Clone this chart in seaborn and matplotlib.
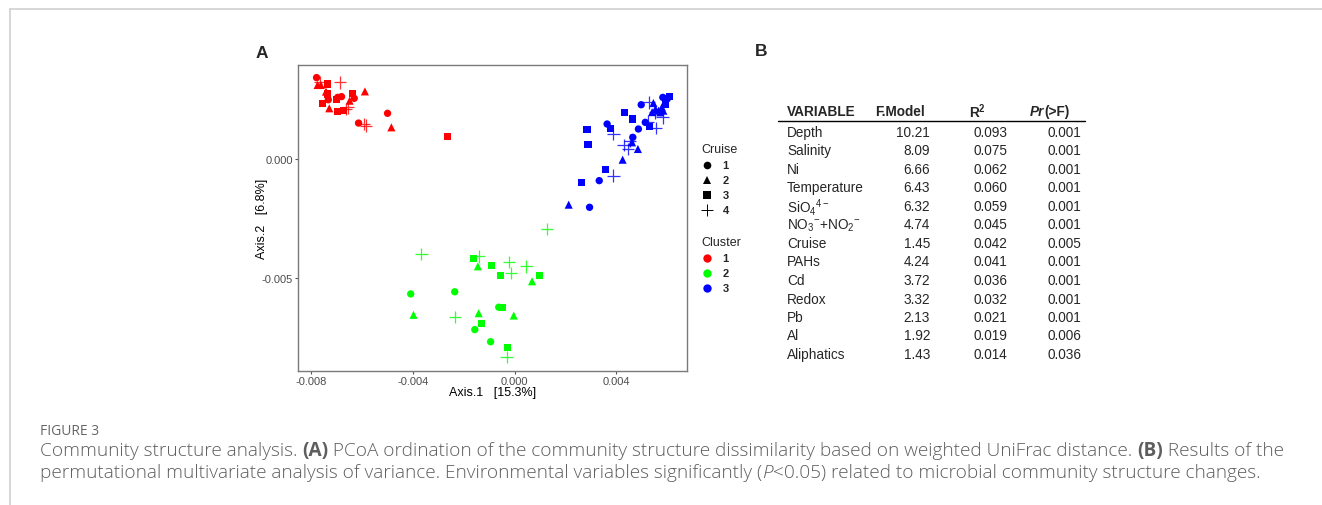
import matplotlib
matplotlib.use("Agg")
import matplotlib.pyplot as plt
from matplotlib.lines import Line2D
import seaborn as sns
import pandas as pd

# ---------------- data ----------------
# PCoA points: (Axis.1, Axis.2, cruise, cluster)
red_x = [-0.00778, -0.00774, -0.00761, -0.00735, -0.00741, -0.00735, -0.00732, -0.00754, -0.00728,
         -0.00695, -0.00672, -0.00686, -0.00695, -0.00698, -0.00680, -0.00636, -0.00630, -0.00648,
         -0.00654, -0.00663, -0.00588, -0.00499, -0.00484, -0.00613, -0.00593, -0.00584, -0.00264,
         -0.00765]
red_y = [0.00342, 0.00311, 0.00311, 0.00315, 0.00283, 0.00273, 0.00249, 0.00235, 0.00213,
         0.00200, 0.00203, 0.00322, 0.00259, 0.00249, 0.00262, 0.00276, 0.00255, 0.00245,
         0.00217, 0.00210, 0.00284, 0.00192, 0.00133, 0.00151, 0.00147, 0.00140, 0.00095,
         0.00324]
red_cruise = [1, 2, 2, 3, 2, 3, 1, 3, 2,
              3, 3, 4, 1, 3, 1, 3, 1, 2,
              4, 4, 2, 1, 2, 1, 4, 4, 3,
              4]

blue_x = [0.00609, 0.00583, 0.00498, 0.00529, 0.00546, 0.00554, 0.00566, 0.00579, 0.00585,
          0.00573, 0.00582, 0.00553, 0.00433, 0.00462, 0.00514, 0.00531, 0.00556, 0.00525,
          0.00364, 0.00379, 0.00389, 0.00487, 0.00285, 0.00289, 0.00465, 0.00455, 0.00462,
          0.00429, 0.00446, 0.00485, 0.00425, 0.00356, 0.00389, 0.00264, 0.00333, 0.00213,
          0.00295, 0.00600, 0.00592, 0.00541]
blue_y = [0.00262, 0.00259, 0.00228, 0.00238, 0.00235, 0.00210, 0.00203, 0.00217, 0.00203,
          0.00196, 0.00175, 0.00196, 0.00196, 0.00168, 0.00154, 0.00136, 0.00130, 0.00157,
          0.00147, 0.00129, 0.00105, 0.00126, 0.00123, 0.00060, 0.00091, 0.00077, 0.00070,
          0.00060, 0.00042, 0.00042, -0.00003, -0.00045, -0.00070, -0.00098, -0.00091, -0.00192,
          -0.00203, 0.00252, 0.00231, 0.00197]
blue_cruise = [3, 1, 1, 4, 2, 2, 2, 2, 2,
               2, 4, 4, 3, 3, 1, 3, 4, 4,
               1, 3, 4, 1, 3, 3, 1, 4, 2,
               4, 4, 2, 2, 3, 4, 3, 1, 2,
               1, 1, 3, 2]

green_x = [0.00128, -0.00366, -0.00160, -0.00140, -0.00144, -0.00091, -0.00022, 0.00047, -0.00055,
           -0.00013, 0.00098, 0.00069, -0.00408, -0.00235, -0.00397, -0.00235, -0.00141, -0.00128,
           -0.00156, -0.00062, -0.00048, -0.00003, -0.00094, -0.00029, -0.00031]
green_y = [-0.00294, -0.00399, -0.00417, -0.00409, -0.00451, -0.00448, -0.00434, -0.00451, -0.00490,
           -0.00479, -0.00490, -0.00514, -0.00567, -0.00558, -0.00655, -0.00665, -0.00648, -0.00693,
           -0.00717, -0.00623, -0.00623, -0.00658, -0.00768, -0.00791, -0.00833]
green_cruise = [4, 4, 3, 4, 2, 3, 4, 4, 3,
                4, 3, 2, 1, 1, 2, 4, 2, 3,
                1, 1, 3, 2, 1, 3, 4]

x_ticks = [-0.008, -0.004, 0.000, 0.004]
y_ticks = [0.000, -0.005]
cruise_levels = [1, 2, 3, 4]
cluster_levels = [1, 2, 3]

# PERMANOVA table
variables = ["Depth", "Salinity", "Ni", "Temperature", r"SiO$_4$$^{4-}$", r"NO$_3$$^{-}$+NO$_2$$^{-}$",
             "Cruise", "PAHs", "Cd", "Redox", "Pb", "Al", "Aliphatics"]
f_model = ["10.21", "8.09", "6.66", "6.43", "6.32", "4.74", "1.45", "4.24", "3.72", "3.32", "2.13", "1.92", "1.43"]
r2 = ["0.093", "0.075", "0.062", "0.060", "0.059", "0.045", "0.042", "0.041", "0.036", "0.032", "0.021", "0.019", "0.014"]
pr_f = ["0.001", "0.001", "0.001", "0.001", "0.001", "0.001", "0.005", "0.001", "0.001", "0.001", "0.001", "0.006", "0.036"]

# ---------------- build frame ----------------
df = pd.concat([
    pd.DataFrame({"x": red_x, "y": red_y, "cruise": red_cruise, "cluster": 1}),
    pd.DataFrame({"x": green_x, "y": green_y, "cruise": green_cruise, "cluster": 2}),
    pd.DataFrame({"x": blue_x, "y": blue_y, "cruise": blue_cruise, "cluster": 3}),
], ignore_index=True)

sns.set_theme(style="white")
plt.rcParams["font.family"] = ["Liberation Sans", "DejaVu Sans"]
plt.rcParams["axes.unicode_minus"] = False
plt.rcParams["mathtext.fontset"] = "custom"
plt.rcParams["mathtext.rm"] = "Liberation Sans"
plt.rcParams["mathtext.it"] = "Liberation Sans:italic"
plt.rcParams["mathtext.bf"] = "Liberation Sans:bold"

W, H = 1322, 506
fig = plt.figure(figsize=(W / 100, H / 100), dpi=100)
fig.patch.set_facecolor("white")

def fx(px):
    return px / W

def fy(py):
    return 1 - py / H

ax_l, ax_r, ax_t, ax_b = 298, 687, 66, 372
ax = fig.add_axes([fx(ax_l), fy(ax_b), fx(ax_r) - fx(ax_l), fy(ax_t) - fy(ax_b)])

palette = {1: "#FF0000", 2: "#00FF00", 3: "#0000FF"}
marker_map = {1: "o", 2: "^", 3: "s", 4: "+"}
size_map = {1: 28, 2: 34, 3: 26, 4: 80}

for c in cruise_levels:
    sub = df[df["cruise"] == c]
    kw = dict(data=sub, x="x", y="y", hue="cluster", palette=palette, marker=marker_map[c],
              s=size_map[c], legend=False, ax=ax, zorder=3)
    if c == 4:
        sns.scatterplot(linewidth=0.9, alpha=0.8, **kw)
    else:
        sns.scatterplot(edgecolor="none", linewidth=0, **kw)

ax.set_xlim(-0.00851, 0.00678)
ax.set_ylim(-0.00891, 0.00395)
ax.set_xticks(x_ticks)
ax.set_yticks(y_ticks)
ax.set_xticklabels([f"{v:.3f}" for v in x_ticks])
ax.set_yticklabels([f"{v:.3f}" for v in y_ticks])
ax.tick_params(axis="both", which="both", length=2.5, width=0.8, color="#555555",
               labelcolor="#4d4d4d", labelsize=8, pad=1, direction="out",
               bottom=True, left=True)
for sp in ax.spines.values():
    sp.set_color("#7a7a7a")
    sp.set_linewidth(1.0)
ax.set_xlabel("Axis.1   [15.3%]", fontsize=9, color="black", labelpad=0)
ax.set_ylabel("Axis.2   [6.8%]", fontsize=9, color="black", labelpad=0, va="center")
ax.yaxis.set_label_coords((262 - ax_l) / (ax_r - ax_l), 0.5)
ax.grid(False)

# legends
cruise_handles = []
for c in cruise_levels:
    if marker_map[c] == "+":
        h = Line2D([], [], marker="+", linestyle="none", color="black", markersize=8, markeredgewidth=0.7)
    else:
        h = Line2D([], [], marker=marker_map[c], linestyle="none", color="black",
                   markersize=5.5 if c != 2 else 6, markeredgewidth=0)
    cruise_handles.append(h)
leg1 = fig.legend(cruise_handles, [str(c) for c in cruise_levels], title="Cruise",
                  loc="upper left", bbox_to_anchor=(fx(697), fy(140)), frameon=False,
                  fontsize=8, title_fontsize=9, handlelength=1.0, handletextpad=0.9,
                  labelspacing=0.45, borderaxespad=0, alignment="left")
for t in leg1.get_texts():
    t.set_fontweight("bold")
cluster_handles = [Line2D([], [], marker="o", linestyle="none", color=palette[k], markersize=6,
                          markeredgewidth=0) for k in cluster_levels]
leg2 = fig.legend(cluster_handles, [str(k) for k in cluster_levels], title="Cluster",
                  loc="upper left", bbox_to_anchor=(fx(697), fy(233)), frameon=False,
                  fontsize=8, title_fontsize=9, handlelength=1.0, handletextpad=0.9,
                  labelspacing=0.45, borderaxespad=0, alignment="left")
for t in leg2.get_texts():
    t.set_fontweight("bold")

# panel letters
fig.text(fx(256), fy(53), "A", fontsize=12.5, fontweight="bold", va="center", ha="left")
fig.text(fx(755), fy(52), "B", fontsize=12.5, fontweight="bold", va="center", ha="left")

fig.canvas.draw()
renderer = fig.canvas.get_renderer()

# ---------------- table ----------------
tfs = 9.8
hy = 112
fig.text(fx(787), fy(hy), "VARIABLE", fontsize=tfs, fontweight="bold", va="center", ha="left")
fig.text(fx(875), fy(hy), "F.Model", fontsize=tfs, fontweight="bold", va="center", ha="left")
fig.text(fx(969), fy(hy), r"$\mathbf{R^2}$", fontsize=tfs, va="center", ha="left")
tpr = fig.text(fx(1030), fy(hy), "Pr", fontsize=tfs, fontweight="bold", fontstyle="italic", va="center", ha="left")
prw = tpr.get_window_extent(renderer=renderer).width
fig.text(fx(1030 + prw), fy(hy), "(>F)", fontsize=tfs, fontweight="bold", va="center", ha="left")
fig.add_artist(Line2D([fx(778), fx(1085)], [fy(121.5), fy(121.5)], transform=fig.transFigure,
                      color="black", linewidth=1.0))
row0, dy = 133, 18.5
for i, v in enumerate(variables):
    yy = fy(row0 + i * dy)
    fig.text(fx(787), yy, v, fontsize=tfs, va="center", ha="left")
    fig.text(fx(930), yy, f_model[i], fontsize=tfs, va="center", ha="right")
    fig.text(fx(1007), yy, r2[i], fontsize=tfs, va="center", ha="right")
    fig.text(fx(1081), yy, pr_f[i], fontsize=tfs, va="center", ha="right")

# ---------------- frame + caption ----------------
fig.add_artist(Line2D([fx(9.5), fx(9.5)], [0, fy(10)], transform=fig.transFigure, color="#cfcfcf", linewidth=1.2))
fig.add_artist(Line2D([fx(9.5), 1], [fy(10), fy(10)], transform=fig.transFigure, color="#cfcfcf", linewidth=1.2))

cap_font = ["Open Sans", "DejaVu Sans"]
cap_col = "#5e5e5e"
cap_fs = 13.65
fig.text(fx(40), fy(432), "FIGURE 3", fontsize=10, color="#666666", family=cap_font, va="center", ha="left")

def draw_segments(x0, ypx, segments):
    x = fx(x0)
    for text, weight, style in segments:
        t = fig.text(x, fy(ypx), text, fontsize=cap_fs, color=cap_col, family=cap_font,
                     fontweight=weight, fontstyle=style, va="center", ha="left")
        bb = t.get_window_extent(renderer=renderer)
        x += bb.width / W

draw_segments(40, 451, [
    ("Community structure analysis. ", "light", "normal"),
    ("(A)", "bold", "normal"),
    (" PCoA ordination of the community structure dissimilarity based on weighted UniFrac distance. ", "light", "normal"),
    ("(B)", "bold", "normal"),
    (" Results of the", "light", "normal"),
])
draw_segments(40, 473, [
    ("permutational multivariate analysis of variance. Environmental variables significantly (", "light", "normal"),
    ("P", "light", "italic"),
    ("<0.05) related to microbial community structure changes.", "light", "normal"),
])

fig.savefig("out.png", dpi=100, facecolor="white")
